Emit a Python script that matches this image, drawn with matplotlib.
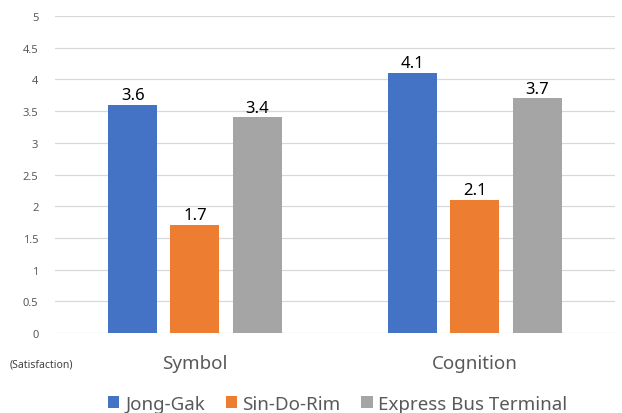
import numpy as np
import matplotlib.pyplot as plt

plt.rcParams['font.family'] = ['Noto Sans', 'DejaVu Sans']

categories = ['Symbol', 'Cognition']
series = ['Jong-Gak', 'Sin-Do-Rim', 'Express Bus Terminal']
values = [
    [3.6, 4.1],
    [1.7, 2.1],
    [3.4, 3.7],
]
colors = ['#4472C4', '#ED7D31', '#A5A5A5']

fig = plt.figure(figsize=(6.22, 4.14), dpi=100)
ax = fig.add_axes([0.0884, 0.193, 0.9003, 0.766])

x = np.arange(len(categories))
width = 0.175
step = 0.222
for i, (name, vals, c) in enumerate(zip(series, values, colors)):
    pos = x + (i - 1) * step
    ax.bar(pos, vals, width, color=c, label=name, zorder=3)
    for p, v in zip(pos, vals):
        ax.text(p, v + 0.03, f'{v:g}', ha='center', va='bottom',
                fontsize=12, color='#000000')

ax.set_xlim(-0.5, 1.5)
ax.set_ylim(0, 5)
ax.set_yticks(np.arange(0, 5.01, 0.5))
ax.set_yticklabels([f'{t:g}' for t in np.arange(0, 5.01, 0.5)])
ax.grid(axis='y', color='#D9D9D9', linewidth=0.9, zorder=0)
for s in ax.spines.values():
    s.set_visible(False)
ax.tick_params(axis='y', length=0, labelsize=8, labelcolor='#595959', pad=12)
ax.tick_params(axis='x', length=0, labelsize=13.5, labelcolor='#595959', pad=15)
ax.set_xticks(x)
ax.set_xticklabels(categories)

fig.text(0.016, 0.118, '(Satisfaction)', fontsize=7.5, color='#404040', va='center')

fig.legend(loc='center', bbox_to_anchor=(0.543, 0.022), ncol=3, frameon=False,
           fontsize=13.5, labelcolor='#595959', handlelength=0.6, handleheight=0.6,
           handletextpad=0.3, columnspacing=1.1)

fig.savefig('out.png', dpi=100)
